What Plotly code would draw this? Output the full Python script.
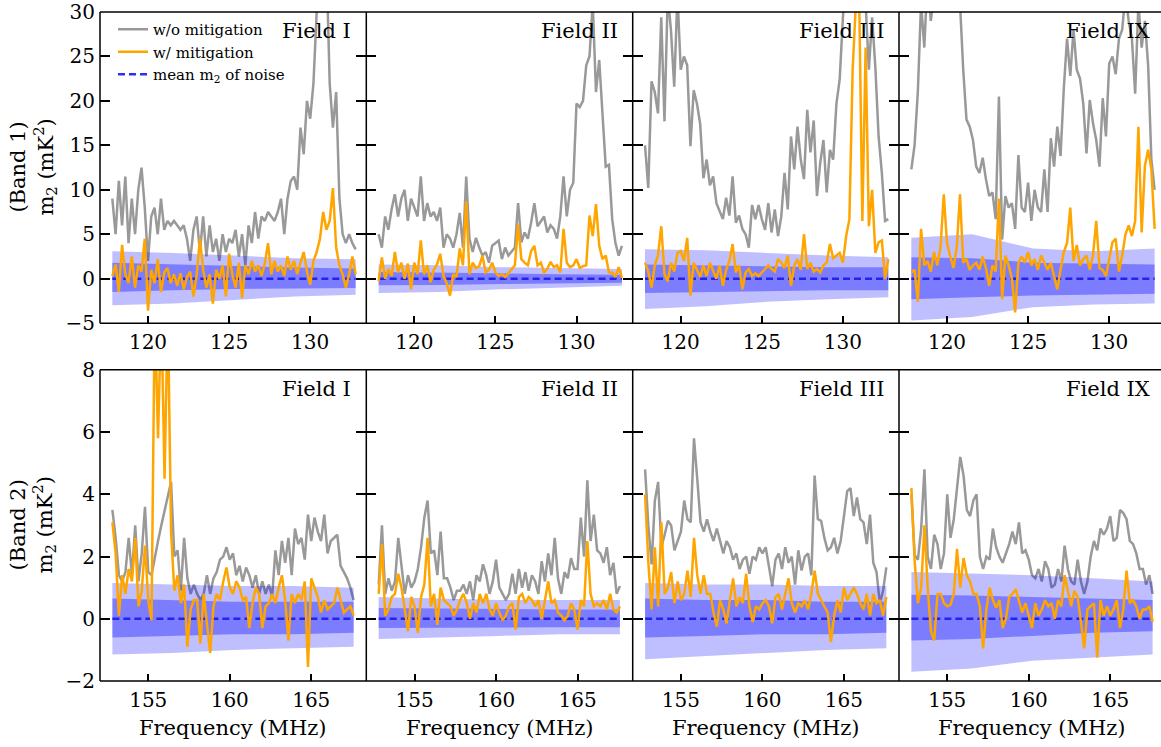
import numpy as np
import plotly.graph_objects as go

FIELDS = ["I", "II", "III", "IX"]

# Spectra are sampled on a uniform frequency grid in each band (MHz)
B1_FREQ_START, B1_FREQ_STOP = 117.8, 132.8
B2_FREQ_START, B2_FREQ_STOP = 152.8, 167.6

# ---------------- Band 1: m2 (mK^2) without / with mitigation ----------------
b1_wo_I = [9, 5, 11, 6, 11.5, 4, 9, 5, 10, 12.5,
           8, 2, 7, 8, 5, 9, 5.5, 6.5, 6, 6.5,
           6, 5.5, 6, 4.5, 2, 5.5, 7, 3, 7, 2.5,
           6, 3, 4.5, 2, 5, 3, 4.5, 4, 5.5, 2.5,
           5, 1.5, 6, 4, 7.5, 4.5, 7, 6.5, 7.5, 7,
           6.5, 7.5, 9, 5, 9, 11, 11.5, 10, 17, 14,
           20, 18, 22, 30, 35, 33, 36, 22, 17, 21,
           9, 5, 4, 5, 4, 3.3]
b1_w_I = [0.3, 1.6, -1.5, 3.8, 0.5, -0.5, 2.5, -1.0, 1.5, 0.8,
          4.5, -3.6, 1.0, -0.5, 2.2, -1.5, 0.7, 1.2, -0.5, 0.5,
          -0.8, 0.6, -1.2, 0.2, 0.8, -2.0, 0.4, 4.5, 1.0, -1.0,
          0.5, -2.8, 1.0, 0.0, 1.5, -2.0, 2.8, 0.5, -1.0, 1.8,
          -2.2, 1.5, 0.5, 2.0, 0.8, 1.5, 0.3, 1.7, 4.0, 0.5,
          2.0, 0.8, 1.5, 0.3, 2.5, 1.0, 2.0, 0.5, 1.8, 3.0,
          0.8, -0.7, 2.0, 3.0, 4.5, 7.5, 5.5, 6.5, 10.2, 3.5,
          1.5, 0.5, -1.0, 0.5, 2.5, 0.5]

b1_wo_II = [5.0, 3.5, 7.0, 5.5, 7.8, 9.5, 7.0, 9.0, 10.0, 6.5,
            9.0, 8.0, 7.0, 11.5, 6.5, 8.5, 7.0, 7.5, 6.5, 8.0,
            3.5, 5.0, 4.5, 3.5, 5.0, 7.4, 3.5, 11.5, 4.5, 3.0,
            4.6, 3.5, 2.6, 3.0, 1.8, 3.7, 4.0, 4.3, 2.2, 3.5,
            2.6, 3.0, 3.5, 8.5, 4.1, 5.2, 4.5, 6.3, 8.5, 5.9,
            6.5, 7.0, 5.2, 6.0, 5.6, 4.5, 7.0, 11.5, 7.0, 10.0,
            10.8, 19.7, 19.3, 20.0, 24.0, 25.0, 31.0, 21.0, 24.6, 18.0,
            12.6, 12.8, 6.7, 4.0, 2.6, 3.7]
b1_w_II = [-0.3, 2.4, 0.0, 1.1, 0.3, 3.0, 0.7, 1.8, 0.0, 1.7,
           -1.2, 1.8, 0.5, 4.3, 0.5, 1.5, -0.4, 1.0, 1.6, 2.8,
           0.3, -0.5, -1.9, 0.5, 0.2, 3.4, 1.5, 8.7, 0.5, 1.8,
           1.2, 1.4, 2.6, 0.7, 1.0, 1.8, 0.7, 0.3, 0.5, 0.2,
           0.6, 1.0, 1.5, 6.1, 2.2, 1.8, 1.5, 3.1, 3.7, 1.5,
           1.8, 0.7, 1.1, 1.9, 1.3, 1.5, 0.7, 5.6, 1.8, 1.3,
           1.5, 2.2, 1.2, 1.4, 1.5, 7.1, 4.8, 8.4, 3.7, 2.2,
           2.6, 0.7, 0.7, 0.2, 1.3, 0.1]

b1_wo_III = [15.0, 10.2, 22.2, 21.0, 18.6, 29.4, 17.7, 32, 27.9, 21.6,
             32, 23.5, 25.0, 24, 14.9, 21.2, 19.7, 17.4, 11.3, 13.4,
             10.5, 11.5, 8.5, 7.5, 6.7, 9.1, 7.1, 11.5, 6.3, 7.1,
             5.6, 5.0, 3.5, 8.3, 6.7, 8.3, 6.7, 5.5, 8.5, 5.2,
             7.8, 4.8, 7.0, 11.9, 7.8, 16, 12.3, 17.1, 13.4, 11.2,
             19, 14.2, 17.8, 9.3, 13, 15.6, 9.7, 14.5, 13.4, 19.7,
             22.4, 29.4, 35, 33, 38, 34, 36, 33, 31, 23.5,
             29.4, 23.8, 16, 11.9, 6.5, 6.7]
b1_w_III = [1.8, 0.8, -1.0, 1.5, 2.6, 5.9, 0.5, -0.3, 1.8, 0.8,
            2.9, 3.1, 2.0, 4.6, -1.9, 1.8, 1.0, 0.2, 1.5, 0.3,
            1.8, 0.9, 0.0, 1.5, -0.8, 1.0, 2.0, 3.9, 0.7, 1.5,
            -1.2, 0.7, 1.1, 0.3, 0.6, 0.3, 0.7, 1.2, 1.5, 1.1,
            0.8, 2.2, 1.8, 1.2, 2.6, -0.8, 1.5, 2.2, 1.0, 5.0,
            1.1, 1.8, 0.8, 1.1, 0.7, 1.5, 1.8, 3.9, 2.3, 2.6,
            2.9, 1.8, 4.8, 6.7, 23.5, 31, 32, 6.5, 26, 5.9,
            10.0, 2.9, 4.1, 4.3, 0.0, 2.2]

b1_wo_IX = [12.3, 15.0, 21, 31, 26, 34, 29, 33, 36, 38,
            40, 40, 38, 36, 34, 31, 23.5, 17.9, 17.1, 15.6,
            12.6, 11.9, 13.6, 11.2, 9.3, 9.7, 6.7, 20.5, 4.4, 9.3,
            8.0, 8.5, 5.6, 13.9, 8.0, 7.5, 10.8, 6.5, 10.0, 8.0,
            7.5, 12.3, 7.5, 15.8, 12.6, 17.1, 13.8, 21.4, 27, 22.8,
            28, 23.5, 22.5, 19.7, 14.1, 20.1, 17.5, 15.6, 12.6, 20.3,
            16, 24.2, 25, 23, 27, 28, 32, 29, 27, 20.8,
            31, 26, 29, 24, 13.4, 10.0]
b1_w_IX = [0.7, 1.0, -2.6, 5.6, 1.5, 2.0, 0.8, 3.0, 1.5, 3.5,
           9.5, 4.0, 2.5, 1.2, 3.5, 9.5, 1.8, 2.2, 1.0, 1.5,
           1.8, 1.0, 2.5, 1.2, -0.8, 1.5, 0.8, 9.0, -2.3, 2.6,
           1.5, 0.0, -3.8, 1.8, 2.5, 1.8, 3.0, 1.5, 2.2, 1.0,
           2.6, 1.8, 1.0, 1.8, 0.3, -1.2, 1.0, 3.0, 4.0, 8.0,
           2.0, 3.8, 1.5, 2.2, 2.6, 1.0, 2.6, 6.5, 1.2, 1.0,
           0.3, 2.2, 4.1, 4.5, 0.8, 2.6, 5.0, 6.0, 4.8, 6.5,
           17.1, 5.2, 12.7, 14.5, 12.3, 5.6]

# ---------------- Band 2: m2 (mK^2) without / with mitigation ----------------
b2_wo_I = [3.5, 2.6, 1.4, 1.2, 1.5, 2.6, 1.4, 3.0, 1.2, 2.1,
           3.6, 1.5, 1.4, 2.0, 2.5, 3.0, 3.5, 4.0, 4.4, 2.0,
           2.2, 0.9, 2.6, 1.3, 0.8, 1.1, 0.8, 0.6, 0.8, 1.4,
           0.8, 1.3, 1.5, 1.9, 2.0, 2.3, 1.9, 2.1, 1.4, 1.7,
           1.2, 1.65, 1.4, 1.0, 1.4, 0.8, 1.2, 0.8, 1.1, 0.7,
           2.2, 1.4, 2.5, 1.8, 2.6, 1.4, 2.9, 2.4, 2.6, 1.9,
           3.35, 2.5, 3.25, 2.8, 2.5, 3.35, 2.1, 2.5, 2.6, 2.7,
           1.7, 1.5, 1.3, 1.0, 0.6]
b2_w_I = [3.1, 2.1, 0.1, 1.4, 0.8, 1.6, 1.2, 2.6, 0.4, 0.9,
          2.35, 0.6, -0.05, 10.0, 5.8, 10.0, 4.5, 10.0, 2.8, 0.9,
          1.4, 0.5, 1.1, -0.9, 0.3, 0.6, 0.6, -0.8, 0.8, -0.2,
          -1.1, 0.4, 0.8, 0.6, 1.2, 1.65, 1.0, 0.8, 1.2, 1.0,
          0.6, 0.7, -0.3, 0.5, 1.0, 0.8, -0.3, 0.4, 0.5, 0.8,
          0.5, 1.0, 1.4, 0.6, -0.7, 0.8, 0.5, 0.8, 0.6, 1.2,
          -1.55, 1.3, 1.0, 0.7, 0.2, 0.6, 0.3, 0.4, 0.5, 1.0,
          0.6, 0.2, 0.3, 0.4, 0.1]

b2_wo_II = [1.1, 3.0, 0.8, 1.3, 0.9, 1.2, 2.6, 1.7, 0.8, 1.4,
            1.0, 1.2, 1.6, 2.3, 3.25, 3.8, 2.1, 2.2, 1.4, 2.8,
            1.3, 1.3, 1.0, 0.6, 0.9, 0.9, 1.1, 0.8, 1.2, 0.6,
            1.4, 1.2, 1.75, 1.4, 0.8, 1.2, 1.9, 1.0, 0.8, 0.6,
            0.8, 1.45, 0.8, 1.6, 1.0, 1.5, 0.9, 1.4, 1.2, 0.8,
            1.85, 1.2, 2.1, 1.4, 2.6, 1.3, 0.8, 1.5, 1.3, 1.95,
            1.6, 1.6, 3.25, 2.0, 4.45, 2.5, 3.35, 2.2, 2.1, 1.8,
            2.3, 1.4, 1.8, 0.8, 1.05]
b2_w_II = [0.8, 2.4, 0.1, 0.3, 0.7, 0.8, 1.45, 1.0, 0.3, -0.4,
           0.7, 0.4, -0.45, 0.7, 1.1, 2.6, 0.4, 0.8, -0.2, 1.0,
           0.6, 0.5, 0.4, 0.1, 0.3, 0.6, 0.8, 0.5, 0.0, 0.5,
           0.2, 0.8, 0.5, 0.8, 0.3, 0.1, 0.5, 0.2, -0.05, 0.1,
           0.4, 0.5, -0.35, 0.7, 0.8, 0.5, 0.7, 0.6, 0.4, 0.6,
           0.0, 0.6, 1.2, 0.5, 0.6, 0.2, 0.1, -0.05, 0.1, 0.5,
           0.3, -0.35, 0.6, 0.4, 2.5, 0.8, 0.4, 0.5, 0.4, 0.6,
           0.3, 0.8, 0.3, 0.2, 0.4]

b2_wo_III = [4.8, 3.0, 1.75, 3.8, 4.4, 2.3, 2.7, 3.15, 3.0, 2.2,
             2.5, 2.8, 3.8, 3.2, 3.1, 5.8, 4.5, 3.1, 2.8, 3.2,
             2.8, 2.5, 2.9, 2.5, 2.1, 2.5, 2.3, 1.9, 2.1, 1.6,
             1.9, 2.0, 1.45, 2.0, 1.9, 2.3, 2.1, 2.3, 1.7, 1.05,
             1.9, 2.1, 1.6, 2.3, 1.8, 2.0, 1.1, 2.2, 1.55, 2.0,
             2.1, 1.4, 4.6, 3.2, 3.15, 2.6, 2.2, 2.3, 2.6, 2.1,
             2.5, 3.3, 4.1, 4.2, 3.3, 3.9, 3.2, 3.1, 2.4, 3.35,
             1.8, 1.5, 0.5, 0.9, 1.65]
b2_w_III = [4.0, 1.8, 0.3, 2.3, 0.4, 3.1, 0.8, 1.0, 1.5, 0.5,
            1.2, 0.6, 0.8, 1.55, 0.7, 2.6, 1.4, 0.8, 1.4, 0.8,
            0.8, 0.2, -0.25, 0.6, 0.3, -0.15, 0.6, 1.3, 0.4, 0.7,
            0.5, 1.45, 0.4, -0.1, 0.4, 0.3, 0.5, 0.6, 0.4, -0.15,
            0.7, 0.8, 0.3, 0.8, 1.3, 0.5, 0.2, 0.5, 0.4, 0.6,
            0.3, 0.8, 1.55, 0.8, 0.6, 0.4, 0.2, -0.75, 0.1, 0.6,
            0.2, 1.0, 0.6, 0.8, 1.0, 0.8, 0.5, 0.3, 0.8, 0.1,
            0.8, 0.5, 0.6, 0.1, 0.7]

b2_wo_IX = [4.0, 2.05, 1.9, 2.9, 4.8, 2.0, 1.6, 2.7, 2.4, 1.6,
            2.1, 4.0, 2.6, 3.2, 4.2, 5.2, 4.6, 3.5, 3.3, 3.8,
            4.0, 2.0, 1.6, 2.0, 1.9, 2.9, 2.3, 2.0, 1.8, 2.1,
            2.4, 2.8, 2.4, 3.1, 2.1, 2.2, 1.9, 1.4, 1.3, 1.6,
            1.2, 1.85, 1.6, 1.0, 1.1, 1.6, 1.2, 2.35, 1.6, 1.2,
            1.1, 1.9, 1.2, 0.8, 1.2, 2.0, 2.5, 2.2, 2.9, 2.7,
            2.9, 3.3, 2.5, 2.6, 3.5, 3.4, 3.2, 2.5, 2.4, 2.1,
            1.6, 1.6, 1.1, 1.4, 0.8]
b2_w_IX = [4.2, 1.85, 0.5, 1.0, 3.0, 1.0, -0.4, -0.7, 0.8, 0.8,
           0.5, 0.4, 0.45, 0.8, 2.25, 1.0, 1.95, 1.4, 1.2, 0.8,
           0.8, 0.4, -0.95, 0.3, 1.0, 0.6, 0.35, 0.6, -0.3, 0.0,
           0.7, 0.8, 0.95, 0.6, 0.2, 0.5, 0.1, -0.3, 0.5, 0.1,
           0.3, 0.6, 0.4, 0.5, 0.0, 0.6, 0.4, 1.4, 0.9, 0.4,
           0.9, 0.7, -0.1, -0.95, 0.3, 0.4, 0.5, -1.25, 0.6, 0.1,
           0.4, 0.1, 0.3, 0.6, -0.3, 0.3, 1.55, 0.5, 0.6, 0.4,
           0.0, 0.3, 0.3, 0.4, -0.1]

# ---------------- Noise statistics (mean, 1-sigma and 2-sigma envelopes) ----------------
B1_NOISE_FREQ = [117.8, 121.55, 125.3, 129.05, 132.8]
B2_NOISE_FREQ = [152.8, 156.5, 160.2, 163.9, 167.6]
b1_noise_mean = [0.0, 0.0, 0.0, 0.0, 0.0]
b2_noise_mean = [0.0, 0.0, 0.0, 0.0, 0.0]

# rows: [2-sigma upper, 2-sigma lower, 1-sigma upper, 1-sigma lower]
b1_noise_I = [[3.1, 2.9, 2.6, 2.3, 2.2], [-3.0, -2.8, -2.4, -2.0, -1.8],
              [1.8, 1.6, 1.4, 1.25, 1.15], [-1.5, -1.3, -1.15, -1.1, -1.05]]
b1_noise_II = [[1.6, 1.5, 1.3, 1.2, 1.1], [-1.6, -1.5, -1.2, -1.0, -0.8],
               [0.75, 0.7, 0.6, 0.5, 0.45], [-0.75, -0.7, -0.6, -0.5, -0.45]]
b1_noise_III = [[3.3, 3.2, 2.9, 2.6, 2.4], [-3.4, -3.1, -2.6, -2.3, -2.1],
                [1.6, 1.5, 1.4, 1.3, 1.3], [-1.6, -1.5, -1.4, -1.3, -1.3]]
b1_noise_IX = [[4.6, 5.0, 3.4, 3.1, 3.4], [-4.7, -4.3, -3.2, -2.9, -2.8],
               [2.4, 2.3, 1.8, 1.7, 1.6], [-2.3, -2.1, -1.9, -1.8, -1.7]]

b2_noise_I = [[1.15, 1.1, 1.05, 1.05, 1.0], [-1.15, -1.1, -1.0, -0.95, -0.9],
              [0.65, 0.6, 0.55, 0.55, 0.55], [-0.6, -0.55, -0.5, -0.5, -0.45]]
b2_noise_II = [[0.7, 0.65, 0.6, 0.6, 0.6], [-0.65, -0.6, -0.55, -0.5, -0.5],
               [0.35, 0.33, 0.3, 0.3, 0.3], [-0.3, -0.3, -0.28, -0.27, -0.27]]
b2_noise_III = [[1.15, 1.1, 1.1, 1.05, 1.05], [-1.3, -1.2, -1.1, -1.0, -0.95],
                [0.65, 0.6, 0.6, 0.55, 0.55], [-0.6, -0.55, -0.5, -0.5, -0.45]]
b2_noise_IX = [[1.5, 1.45, 1.4, 1.3, 1.2], [-1.7, -1.6, -1.35, -1.25, -1.15],
               [0.77, 0.75, 0.7, 0.65, 0.6], [-0.7, -0.65, -0.55, -0.45, -0.4]]

B1_YTICKS = [-5, 0, 5, 10, 15, 20, 25, 30]
B2_YTICKS = [-2, 0, 2, 4, 6, 8]
B1_XTICKS = [120, 125, 130]
B2_XTICKS = [155, 160, 165]

bands = [
    dict(label="Band 1", start=B1_FREQ_START, stop=B1_FREQ_STOP,
         wo=[b1_wo_I, b1_wo_II, b1_wo_III, b1_wo_IX],
         w=[b1_w_I, b1_w_II, b1_w_III, b1_w_IX],
         nfreq=B1_NOISE_FREQ, nmean=b1_noise_mean,
         noise=[b1_noise_I, b1_noise_II, b1_noise_III, b1_noise_IX],
         xtick=B1_XTICKS, ytick=B1_YTICKS, yrange=[-5, 30],
         xleft=117.04, xscale=16.22),
    dict(label="Band 2", start=B2_FREQ_START, stop=B2_FREQ_STOP,
         wo=[b2_wo_I, b2_wo_II, b2_wo_III, b2_wo_IX],
         w=[b2_w_I, b2_w_II, b2_w_III, b2_w_IX],
         nfreq=B2_NOISE_FREQ, nmean=b2_noise_mean,
         noise=[b2_noise_I, b2_noise_II, b2_noise_III, b2_noise_IX],
         xtick=B2_XTICKS, ytick=B2_YTICKS, yrange=[-2, 8],
         xleft=152.04, xscale=16.3),
]

# ---------------- Layout geometry (pixels) ----------------
W, H = 1161, 747
ML, MR, MT, MB = 100, 0, 8, 66
PW, PH = W - ML - MR, H - MT - MB
COL_PX = [100, 366.3, 632.7, 899, 1165]
ROW_PX = [(8, 321), (368, 681)]
LW = 1.5

FONT = "DejaVu Serif"
GREY = "#999999"
ORANGE = "#FFA500"
MEAN_BLUE = "rgba(25,25,235,0.9)"
OUTER_FILL = "rgba(0,0,255,0.25)"
INNER_FILL = "rgba(0,0,255,0.35)"
LINE_W = 2.5


def xf(px):
    return (px - ML) / PW


def yf(py):
    return (H - MB - py) / PH


fig = go.Figure()
layout = dict(
    width=W, height=H,
    margin=dict(l=ML, r=MR, t=MT, b=MB, pad=0),
    paper_bgcolor="white", plot_bgcolor="white",
    font=dict(family=FONT, size=20, color="black"),
    showlegend=True,
    legend=dict(x=xf(113), y=yf(9), xanchor="left", yanchor="top",
                bgcolor="rgba(0,0,0,0)", font=dict(family=FONT, size=15),
                tracegroupgap=0, itemwidth=30),
)
annotations = []
shapes = []

for r, band in enumerate(bands):
    y0, y1 = ROW_PX[r]
    for c, field in enumerate(FIELDS):
        k = r * 4 + c + 1
        xa = "x" if k == 1 else f"x{k}"
        ya = "y" if k == 1 else f"y{k}"
        left_px = COL_PX[c]
        right_px = min(COL_PX[c + 1], W)
        x_lo = band["xleft"]
        x_hi = band["xleft"] + (right_px - left_px) / band["xscale"]
        first = (k == 1)

        wo = band["wo"][c]
        w = band["w"][c]
        f_wo = np.linspace(band["start"], band["stop"], len(wo))
        f_w = np.linspace(band["start"], band["stop"], len(w))
        hi2, lo2, hi1, lo1 = band["noise"][c]
        nf = band["nfreq"]

        fig.add_trace(go.Scatter(
            x=f_wo, y=wo, mode="lines", name="w/o mitigation",
            line=dict(color=GREY, width=LINE_W), xaxis=xa, yaxis=ya,
            showlegend=first, legendrank=1, hoverinfo="skip"))
        fig.add_trace(go.Scatter(
            x=nf + nf[::-1], y=hi2 + lo2[::-1], mode="lines", fill="toself",
            fillcolor=OUTER_FILL, line=dict(width=0), xaxis=xa, yaxis=ya,
            showlegend=False, hoverinfo="skip"))
        fig.add_trace(go.Scatter(
            x=nf + nf[::-1], y=hi1 + lo1[::-1], mode="lines", fill="toself",
            fillcolor=INNER_FILL, line=dict(width=0), xaxis=xa, yaxis=ya,
            showlegend=False, hoverinfo="skip"))
        fig.add_trace(go.Scatter(
            x=nf, y=band["nmean"], mode="lines",
            name="mean m<sub>2</sub> of noise",
            line=dict(color=MEAN_BLUE, width=2.5, dash="7px,4px"),
            xaxis=xa, yaxis=ya, showlegend=first, legendrank=3,
            hoverinfo="skip"))
        fig.add_trace(go.Scatter(
            x=f_w, y=w, mode="lines", name="w/ mitigation",
            line=dict(color=ORANGE, width=LINE_W), xaxis=xa, yaxis=ya,
            showlegend=first, legendrank=2, hoverinfo="skip"))

        xkey = "xaxis" if k == 1 else f"xaxis{k}"
        ykey = "yaxis" if k == 1 else f"yaxis{k}"
        layout[xkey] = dict(
            domain=[xf(left_px), min(xf(right_px), 1.0)], anchor=ya,
            range=[x_lo, x_hi], tickvals=band["xtick"],
            ticks="inside", ticklen=7, tickwidth=1.5, tickcolor="black",
            showline=False, showgrid=False, zeroline=False,
            tickfont=dict(family=FONT, size=20), ticklabelstandoff=5)
        layout[ykey] = dict(
            domain=[yf(y1), yf(y0)], anchor=xa,
            range=band["yrange"], tickvals=band["ytick"],
            ticks="inside", ticklen=10, tickwidth=1.5, tickcolor="black",
            showline=False, mirror="ticks" if c < 3 else False,
            showgrid=False, zeroline=False, showticklabels=(c == 0),
            ticklabeloverflow="allow",
            tickfont=dict(family=FONT, size=20), ticklabelstandoff=4)

        annotations.append(dict(
            text=f"Field {field}", xref="paper", yref="paper",
            x=xf(COL_PX[c + 1] - 13), y=yf(y0 + 19),
            xanchor="right", yanchor="middle", showarrow=False,
            font=dict(family=FONT, size=21)))
        if r == 1:
            annotations.append(dict(
                text="Frequency (MHz)", xref="paper", yref="paper",
                x=xf((COL_PX[c] + COL_PX[c + 1]) / 2), y=yf(728),
                xanchor="center", yanchor="middle", showarrow=False,
                font=dict(family=FONT, size=21)))

    # panel frames: one shared line between neighbouring panels
    frame = dict(type="line", xref="paper", yref="paper", layer="above",
                 line=dict(color="black", width=LW))
    for py in (y0, y1):
        shapes.append(dict(frame, x0=xf(COL_PX[0]), x1=1.0, y0=yf(py), y1=yf(py)))
    for px in COL_PX[:4]:
        shapes.append(dict(frame, x0=xf(px), x1=xf(px), y0=yf(y1), y1=yf(y0)))

    annotations.append(dict(
        text=f"({band['label']})<br>m<sub>2</sub> (mK<sup>2</sup>)",
        xref="paper", yref="paper", x=xf(33), y=yf((y0 + y1) / 2),
        xanchor="center", yanchor="middle", textangle=-90, showarrow=False,
        font=dict(family=FONT, size=21)))

layout["annotations"] = annotations
layout["shapes"] = shapes
fig.update_layout(**layout)
fig.write_html("out.html")
